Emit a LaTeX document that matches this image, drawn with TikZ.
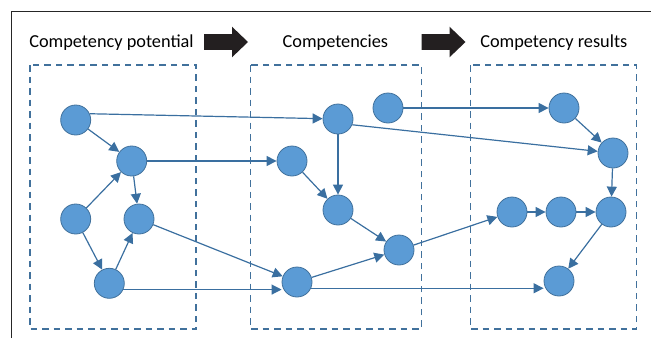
\documentclass[tikz,border=0pt]{standalone}
\usepackage{fontspec}
\setmainfont{Carlito}
\usetikzlibrary{arrows.meta,backgrounds}

\definecolor{nodefill}{HTML}{5B9BD5}
\definecolor{nodeline}{HTML}{41719C}
\definecolor{edgecol}{HTML}{3A6FA0}
\definecolor{boxcol}{HTML}{41719C}
\definecolor{blockcol}{HTML}{231F20}

\tikzset{
  comp/.style={circle,fill=nodefill,draw=nodeline,line width=0.8pt,
    minimum size=30pt,inner sep=0pt},
  link/.style={draw=edgecol,line width=1.2pt,
    -{Triangle[length=10pt,width=10pt]}},
  stage/.style={dash pattern=on 6.5pt off 5pt,draw=boxcol,line width=1.1pt},
  heading/.style={font=\fontsize{18.3}{21}\selectfont,anchor=base,inner sep=0pt},
  flow/.style={fill=blockcol},
  blockarrow/.pic={\fill[flow] (0,-7.8) -- (28,-7.8) -- (28,-15.3) -- (44,0)
    -- (28,15.3) -- (28,7.8) -- (0,7.8) -- cycle;}
}

\begin{document}
\begin{tikzpicture}[x=1pt,y=-1pt]
\useasboundingbox (0,0) rectangle (651,338);

% headings and block arrows
\node[heading] (hpot) at (111.5,47) {Competency potential};
\node[heading] (hcomp) at (335.4,47) {Competencies};
\node[heading] (hres) at (553.8,47) {Competency results};
\pic at (204,42) {blockarrow};
\pic at (421.5,42) {blockarrow};

% competency nodes
\node[comp] (A) at (75.7,120) {};
\node[comp] (B) at (131.7,161) {};
\node[comp] (C) at (75.7,219) {};
\node[comp] (D) at (139,219) {};
\node[comp] (E) at (109.3,283.3) {};
\node[comp] (F) at (292,161) {};
\node[comp] (G) at (297,282) {};
\node[comp] (H) at (338,119) {};
\node[comp] (I) at (388,108) {};
\node[comp] (J) at (338,210) {};
\node[comp] (K) at (399,250) {};
\node[comp] (L) at (564,108) {};
\node[comp] (M) at (613,153) {};
\node[comp] (N) at (512,212) {};
\node[comp] (O) at (561,212) {};
\node[comp] (P) at (611,212) {};
\node[comp] (Q) at (559,281) {};

\begin{pgfonlayer}{background}
  % outer frame
  \draw[line width=1pt,black!85] (11.7,338) -- (11.7,11) -- (651,11);
  % stage boxes
  \draw[stage] (30,65) rectangle (196,329);
  \draw[stage] (250.7,65) rectangle (421.5,329);
  \draw[stage] (470.7,65) rectangle (636.7,329);

  % connectors
  \draw[link] (A.24) -- (H);
  \draw[link] (A) -- (B);
  \draw[link] (C) -- (B);
  \draw[link] (B) -- (D);
  \draw[link] (C) -- (E);
  \draw[link] (E) -- (D);
  \draw[link] (B) -- (F);
  \draw[link] (D) -- (G);
  \draw[link] (E.-24) -- (E.-24 -| G.west);
  \draw[link] (G.-24) -- (G.-24 -| Q.west);
  \draw[link] (G) -- (K);
  \draw[link] (F) -- (J);
  \draw[link] (H) -- (J);
  \draw[link] (J) -- (K);
  \draw[link] (K) -- (N);
  \draw[link] (H.-22) -- (M);
  \draw[link] (I) -- (L);
  \draw[link] (L) -- (M);
  \draw[link] (M) -- (P);
  \draw[link] (N) -- (O);
  \draw[link] (O) -- (P);
  \draw[link] (P) -- (Q);
\end{pgfonlayer}
\end{tikzpicture}
\end{document}
